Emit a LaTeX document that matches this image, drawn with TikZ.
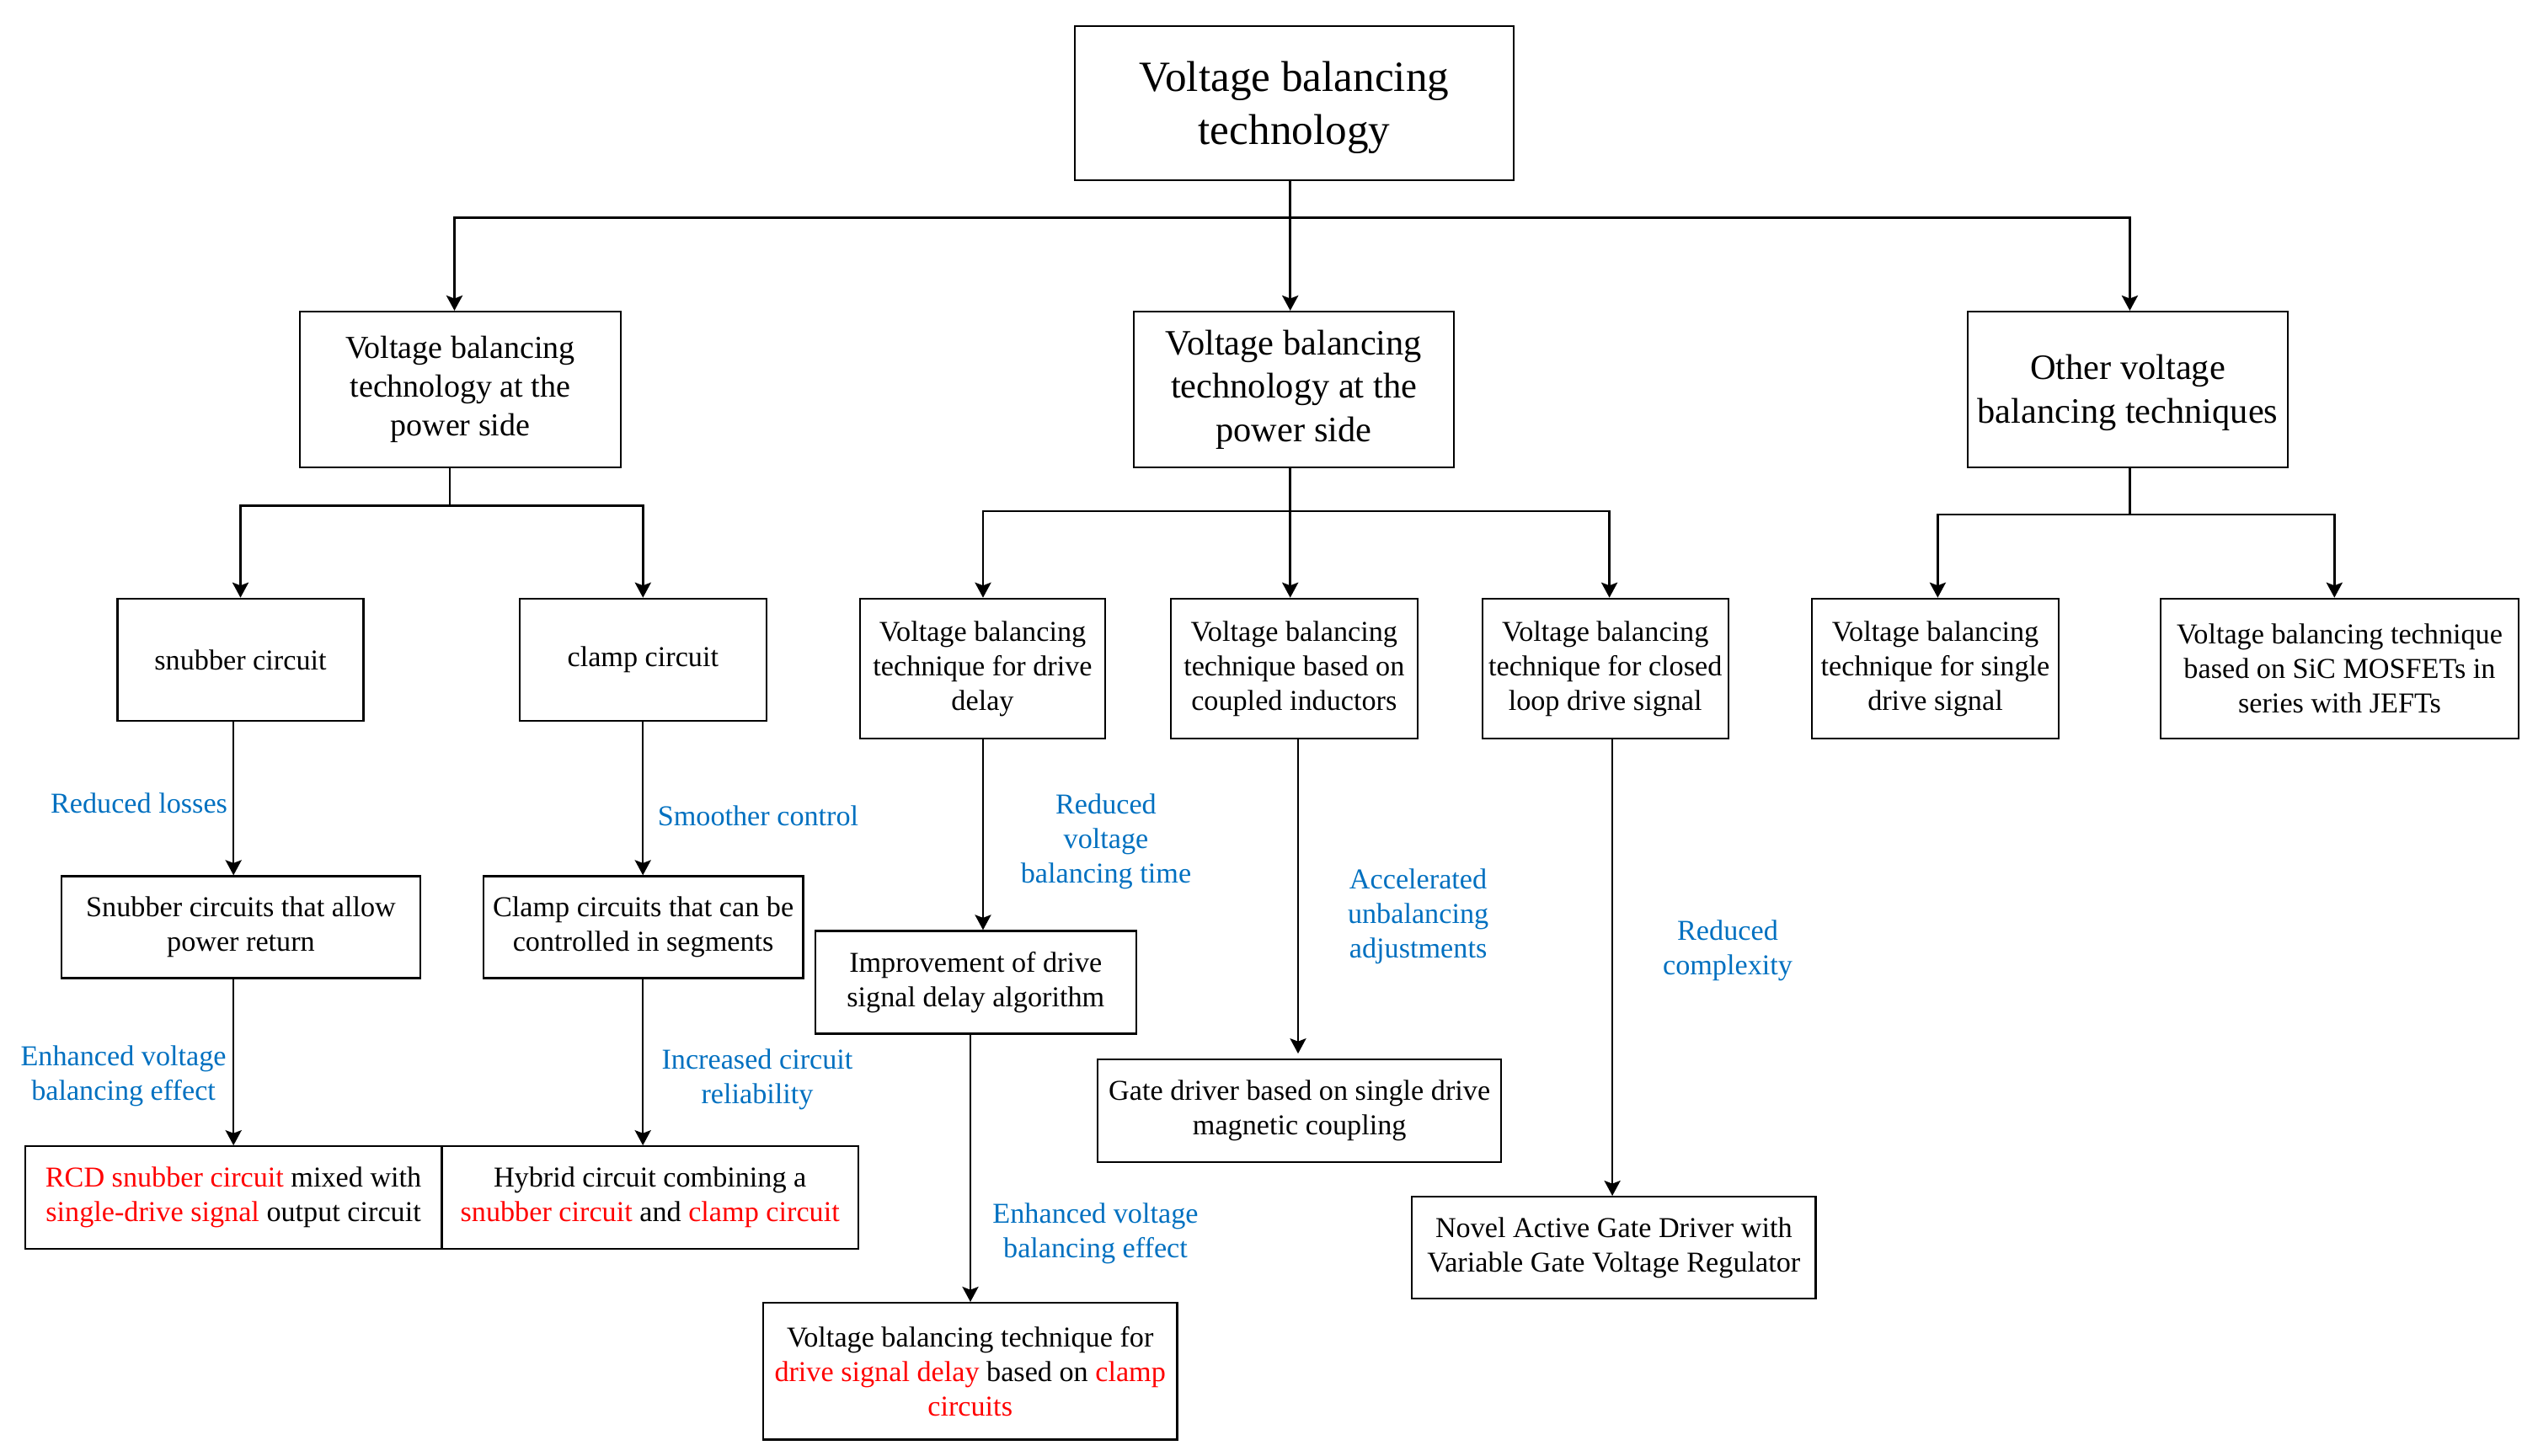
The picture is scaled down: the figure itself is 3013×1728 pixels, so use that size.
\documentclass[tikz,border=0pt]{standalone}
\usepackage{fontspec}
\setmainfont{Liberation Serif}
\usetikzlibrary{arrows.meta}
\definecolor{lblue}{RGB}{0,112,192}
\definecolor{lred}{RGB}{255,0,0}
\newcommand{\rd}[1]{\textcolor{lred}{#1}}
\begin{document}
\begin{tikzpicture}[x=0.25pt,y=-0.25pt,
  box/.style={draw, line width=0.55pt, align=center, inner sep=0pt,
              font=\fontsize{8.55}{10.25}\selectfont},
  lab/.style={align=center, text=lblue, inner sep=0pt,
              font=\fontsize{8.55}{10.25}\selectfont},
  arr/.style={line width=0.5pt, -{Stealth[length=4.5pt,width=4.8pt,inset=0.9pt]}},
  arrb/.style={arr, line width=0.65pt},
  ln/.style={line width=0.5pt},
  lnb/.style={line width=0.65pt}]
\useasboundingbox (0,0) rectangle (3013,1728);

% ---------- boxes ----------
\node[box, minimum width=130.25pt, minimum height=45.75pt,
      font=\fontsize{12.8}{15.75}\selectfont] (root) at (1536.5,122.5)
      {\rule{0pt}{11.5pt}Voltage balancing\\technology};

\node[box, minimum width=95.25pt, minimum height=46.25pt,
      font=\fontsize{9.5}{11.5}\selectfont] (L1) at (546.5,462.5)
      {Voltage balancing\\technology at the\\power side};
\node[box, minimum width=95pt, minimum height=46.25pt,
      font=\fontsize{10.6}{12.9}\selectfont] (mid) at (1536,462.5)
      {Voltage balancing\\technology at the\\power side};
\node[box, minimum width=95pt, minimum height=46.25pt,
      font=\fontsize{10.6}{12.9}\selectfont] (oth) at (2526,462.5)
      {\rule{0pt}{9.4pt}Other voltage\\balancing techniques};

\node[box, minimum width=73pt, minimum height=36.25pt] (snub) at (285.5,783.3) {snubber circuit};
\node[box, minimum width=73.25pt, minimum height=36.25pt] (clamp) at (763.3,783.3) {clamp circuit};
\node[box, minimum width=72.75pt, minimum height=41.6pt] (delay) at (1166.5,794)
      {Voltage balancing\\technique for drive\\delay};
\node[box, minimum width=73.15pt, minimum height=41.6pt] (coup) at (1536.3,794)
      {Voltage balancing\\technique based on\\coupled inductors};
\node[box, minimum width=73pt, minimum height=41.6pt] (closed) at (1905.7,794)
      {Voltage balancing\\technique for closed\\loop drive signal};
\node[box, minimum width=73.25pt, minimum height=41.6pt] (single) at (2297.5,794)
      {Voltage balancing\\technique for single\\drive signal};
\node[box, minimum width=106.4pt, minimum height=41.6pt] (sic) at (2777.5,794)
      {Voltage balancing technique\\based on SiC MOSFETs in\\series with JEFTs};

\node[box, minimum width=106.5pt, minimum height=30.25pt] (sret) at (286,1100.9)
      {Snubber circuits that allow\\power return};
\node[box, minimum width=94.9pt, minimum height=30.25pt] (cseg) at (763.6,1100.9)
      {Clamp circuits that can be\\controlled in segments};
\node[box, minimum width=123.5pt, minimum height=30.5pt] (rcd) at (277.1,1422.2)
      {\rd{RCD snubber circuit} mixed with\\\rd{single-drive signal} output circuit};
\node[box, minimum width=123.5pt, minimum height=30.5pt] (hyb) at (771.7,1422.2)
      {Hybrid circuit combining a\\\rd{snubber circuit} and \rd{clamp circuit}};
\node[box, minimum width=95.15pt, minimum height=30.5pt] (impr) at (1158.3,1166.4)
      {Improvement of drive\\signal delay algorithm};
\node[box, minimum width=119.8pt, minimum height=30.5pt] (gate) at (1542.7,1319.2)
      {Gate driver based on single drive\\magnetic coupling};
\node[box, minimum width=119.8pt, minimum height=30.2pt] (novel) at (1915.8,1481.5)
      {Novel Active Gate Driver with\\Variable Gate Voltage Regulator};
\node[box, minimum width=122.9pt, minimum height=40.6pt] (final) at (1151.7,1628.3)
      {Voltage balancing technique for\\\rd{drive signal delay} based on \rd{clamp}\\\rd{circuits}};

% ---------- labels ----------
\node[lab, anchor=east] (l1) at (270.8,953.6) {Reduced losses};
\node[lab] (l2) at (900,968.7) {Smoother control};
\node[lab] (l3) at (146.6,1278) {Enhanced voltage\\balancing effect};
\node[lab] (l4) at (899,1282) {Increased circuit\\reliability};
\node[lab] (l5) at (1313,999) {Reduced\\voltage\\balancing time};
\node[lab] (l6) at (1300.5,1465) {Enhanced voltage\\balancing effect};
\node[lab] (l7) at (1683.6,1088) {Accelerated\\unbalancing\\adjustments};
\node[lab] (l8) at (2051,1129) {Reduced\\complexity};

% ---------- junction coordinates ----------
\coordinate (b0) at (1531.7,258.3);
\coordinate (b1) at (533.8,600.5);
\coordinate (b2) at (1531.7,606.8);
\coordinate (b3) at (2528.4,610.8);
\coordinate (xL1) at (539.5,0);
\coordinate (xcl) at (1910.6,0);
\coordinate (xsg) at (2300.4,0);
\coordinate (xsc) at (2771.3,0);
\coordinate (xs) at (277.2,0);
\coordinate (xc) at (763.2,0);
\coordinate (xd1) at (1167,0);
\coordinate (xd2) at (1152,0);
\coordinate (xcp) at (1541,0);
\coordinate (xcd) at (1914.1,0);

% ---------- connectors ----------
\draw[arrb] (root.south -| b0) -- (mid.north -| b0);
\draw[arrb] (b0) -| (L1.north -| xL1);
\draw[arrb] (b0) -| (oth.north -| b3);

\draw[lnb] (L1.south -| b1) -- (b1);
\draw[arrb] (b1) -| (snub.north);
\draw[arrb] (b1) -| (clamp.north);

\draw[arrb] (b2) -| (delay.north -| xd1);
\draw[arrb] (b2) -| (closed.north -| xcl);
\draw[arrb] (mid.south -| b2) -- (coup.north -| b2);

\draw[lnb] (oth.south -| b3) -- (b3);
\draw[arrb] (b3) -| (single.north -| xsg);
\draw[arrb] (b3) -| (sic.north -| xsc);

\draw[arr] (snub.south -| xs) -- (sret.north -| xs);
\draw[arr] (sret.south -| xs) -- (rcd.north -| xs);
\draw[arr] (clamp.south -| xc) -- (cseg.north -| xc);
\draw[arr] (cseg.south -| xc) -- (hyb.north -| xc);
\draw[arr] (delay.south -| xd1) -- (impr.north -| xd1);
\draw[arr] (impr.south -| xd2) -- (final.north -| xd2);
\draw[arr] (coup.south -| xcp) -- ([yshift=1.5pt]gate.north -| xcp);
\draw[arr] (closed.south -| xcd) -- (novel.north -| xcd);
\end{tikzpicture}
\end{document}
